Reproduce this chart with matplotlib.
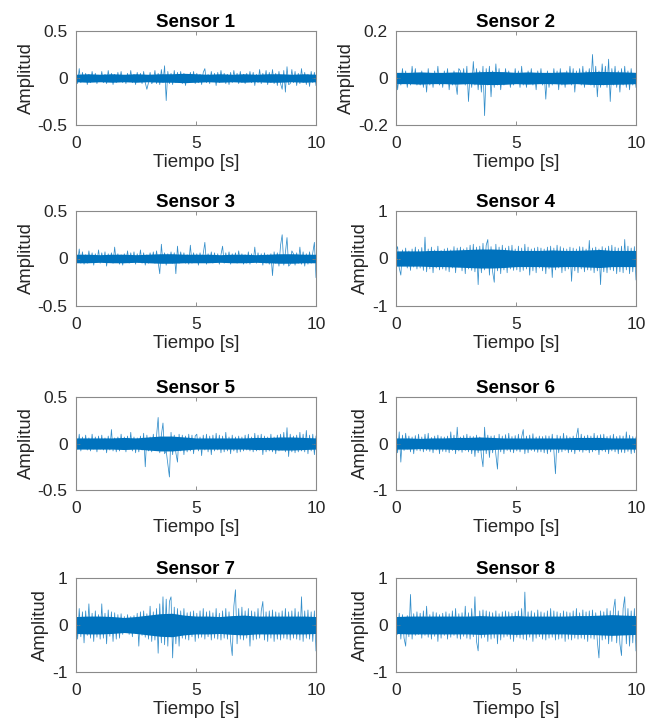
import numpy as np
import matplotlib
matplotlib.use("Agg")
import matplotlib.pyplot as plt

plt.rcParams['font.family'] = ['Liberation Sans', 'DejaVu Sans']
plt.rcParams['axes.unicode_minus'] = False

titles = ["Sensor 1", "Sensor 2", "Sensor 3", "Sensor 4",
          "Sensor 5", "Sensor 6", "Sensor 7", "Sensor 8"]
xlabel = "Tiempo [s]"
ylabel = "Amplitud"
x_ticks = [0, 5, 10]
y_lims = [0.5, 0.2, 0.5, 1, 0.5, 1, 1, 1]
t_end = 10.0

# amplitudes in hundredths
sensor1 = [4,-6,10,-5,6,-3,5,-7,4,-5,7,-3,5,-6,3,
           -4,7,-5,4,-6,8,-3,5,-7,4,-5,6,-4,7,-5,
           3,-6,5,-4,8,-5,4,-7,6,-4,5,-6,7,-5,-12,
           -5,6,-6,-4,8,-6,5,-7,9,-5,13,-24,7,-6,5,
           -7,8,-5,6,-4,7,-6,5,-8,4,-5,6,-4,7,-6,
           5,-5,4,-7,6,10,-5,4,-6,7,-4,5,-8,6,-5,
           8,-4,5,-6,4,-7,6,-5,8,-4,5,-6,7,-5,4,
           -6,5,-4,7,-5,6,-8,4,-5,9,-6,5,-4,8,-7,
           6,-5,9,-6,5,-8,7,-6,-12,8,-15,12,-7,-6,9,
           -5,7,-8,5,-6,10,-5,6,-7,4,-9,7,-5,6,-8]
sensor2 = [3,-5,2,-3,4,-2,3,-4,2,-3,5,-2,4,-3,2,
           -3,3,-4,2,-6,4,-3,2,-4,3,-2,5,-3,2,-4,
           3,-2,4,-5,2,-3,3,-2,-7,4,3,-2,4,-3,5,
           -10,2,-4,7,-3,4,-5,3,-6,5,-16,4,-3,5,-8,
           3,-4,6,-3,4,-5,2,-3,4,-2,3,-4,2,-3,4,
           -2,3,-4,5,-3,2,-4,3,-2,4,-3,2,-5,3,-2,
           4,-3,2,-9,3,-4,2,-3,4,-2,3,-5,4,-3,2,
           -4,3,-2,5,-3,4,-6,3,-2,4,-3,5,-4,3,-2,
           4,-3,10,-4,5,-8,3,-4,6,-3,5,-4,8,-10,4,
           -3,5,-4,3,-6,4,-3,5,-4,3,-5,4,-3,2,-4]
sensor3 = [6,-4,10,-5,7,-6,4,-5,8,-4,6,-7,5,-4,9,
           -5,6,-4,7,-8,5,-4,6,-5,12,-4,5,-6,4,-7,
           5,-4,8,-5,6,-4,7,-6,5,-4,9,-5,6,-7,4,
           -5,6,-4,7,-5,8,-4,-16,15,-5,6,-7,5,-4,7,
           -5,6,-16,13,-5,7,-4,6,-5,4,-6,14,-5,6,-4,
           5,-7,6,-4,5,17,-6,5,-4,7,-5,6,-4,5,-6,
           4,13,-5,6,-4,7,-6,5,-4,6,-5,8,-4,5,-6,
           4,-5,7,-6,5,-4,12,-5,6,-4,5,-7,6,-5,4,
           -6,5,-18,7,-5,6,-8,14,25,-7,6,22,-8,-6,8,
           5,-7,6,-5,12,-6,7,-8,5,-6,7,-5,6,17,-20]
sensor4 = [15,25,-20,-35,18,-15,22,-20,16,-25,20,-18,24,-22,19,
           -20,23,-25,45,-28,20,-22,24,-30,18,-20,26,-24,17,-22,
           20,-25,22,-28,18,-20,25,-30,22,-18,24,-26,20,-32,23,
           -22,28,-25,30,-28,24,-55,26,-30,32,-24,28,40,-35,25,
           -28,-50,30,-26,24,-32,28,-24,22,-30,26,-22,28,-25,20,
           -24,26,-28,22,-25,30,-22,24,-35,20,-26,22,-30,24,-20,
           22,-26,20,-32,24,-22,26,-40,22,-24,28,-20,25,-30,22,
           -26,20,-22,24,-48,22,-26,20,-30,25,-22,24,-28,20,-24,
           38,-25,22,-30,24,-26,20,-55,25,-28,22,-30,26,-24,28,
           -26,24,-32,22,-28,26,-30,40,-24,26,-32,22,-28,25,-45]
sensor5 = [8,-6,10,-8,7,-5,9,-7,6,-8,10,-6,7,-9,8,
           -6,9,-7,6,-10,8,-7,15,-8,6,-9,7,-8,10,-6,
           7,-9,8,-6,12,-8,7,-10,6,-9,8,-7,11,-25,9,
           -8,7,-9,10,-7,8,28,-10,9,22,-11,-8,-22,-36,12,
           -12,9,-10,-20,10,-8,9,-12,8,-9,10,-8,9,-11,8,
           10,-8,7,-13,9,-7,10,-9,8,-12,9,-8,11,-7,9,
           -10,8,-9,12,-8,7,-11,9,-8,7,-10,8,-9,7,-8,
           9,-7,10,-8,7,-9,11,-8,9,-7,10,-12,8,-9,7,
           -8,10,-9,7,-11,9,-8,10,-7,12,-9,17,-14,10,-9,
           8,-10,9,-9,12,-8,10,-9,14,-11,9,-8,10,-12,8]
sensor6 = [15,-20,25,-40,18,-15,22,-12,16,-18,14,-22,17,-15,20,
           -16,14,-18,20,-15,22,-17,13,-20,16,-14,18,-22,15,-17,
           14,-18,16,-20,25,-15,18,-22,35,-16,14,-19,17,-15,20,
           -18,16,-22,15,-28,18,-20,14,-25,-50,35,-22,18,-30,16,
           -20,17,-24,-55,20,-18,16,-22,19,-15,22,-18,15,-20,17,
           -16,20,-18,14,30,-22,16,-20,18,-15,21,-17,14,-19,16,
           -18,15,-20,17,-22,16,-18,20,-15,-65,18,-20,16,-18,22,
           -15,17,-20,14,-18,16,-22,15,33,-17,20,-19,16,-15,18,
           -20,16,-18,22,-15,17,-24,19,-16,20,-18,15,-22,17,-16,
           20,-18,15,-22,17,-19,16,-20,25,-17,18,-22,15,-20,14]
sensor7 = [20,-30,35,-25,28,-38,30,-22,45,-28,25,-35,30,-26,22,
           -30,45,-28,25,-40,32,-24,28,-35,26,-30,22,-28,24,-20,
           18,-15,22,-20,18,-25,20,-18,25,-45,28,-22,30,-26,24,
           -30,40,-35,28,-32,35,-60,45,-38,60,-42,55,-45,50,60,
           -70,38,-40,35,-45,30,-28,35,-30,26,-32,28,-25,30,-35,
           25,-28,30,-26,35,-30,28,-25,30,-32,26,-28,35,-30,25,
           -32,30,-28,35,-30,28,-35,-65,40,75,-40,35,-30,38,-32,
           30,-28,35,-45,30,-32,28,-30,35,-28,30,50,-32,28,-35,
           30,-28,32,-35,28,-30,26,-32,30,-28,35,-30,28,-32,30,
           -28,35,-30,28,-32,60,-35,30,-28,32,-30,28,-35,30,-55]
sensor8 = [40,-20,25,-30,22,-28,-45,20,-25,65,-30,24,-22,28,-20,
           25,-28,30,-22,40,-26,22,-30,28,-24,26,-35,22,-28,25,
           -22,28,-30,24,-26,30,-22,35,-28,24,-30,26,-24,40,-28,
           26,-30,35,-25,60,-35,-55,30,-28,32,-26,30,-35,28,-30,
           26,-28,30,-40,24,-32,28,-26,30,-24,28,-30,25,-35,28,
           -26,30,-28,35,-30,70,-32,28,-26,30,-35,26,-28,32,-25,
           28,-30,26,-32,30,-28,35,-26,30,-32,28,-30,25,-28,30,
           -35,28,-30,26,-32,30,-28,35,-30,26,-28,32,-30,28,-35,
           30,-28,32,-30,26,-35,-70,30,-32,28,-30,35,-40,30,-35,
           32,55,-38,30,-40,-65,35,60,-40,35,-45,30,-38,35,-55]
sensors = [sensor1, sensor2, sensor3, sensor4, sensor5, sensor6, sensor7, sensor8]

# half-width of the dense core band (hundredths) at t = 0, 0.5, ..., 10 s
core1 = [4, 4.5, 4, 4.5, 4, 4.5, 4, 4.5, 4.5, 5, 4.5, 4, 4.5, 4, 4.5, 4, 4.5, 4.5, 4, 4.5, 4]
core2 = [2.4, 2.4, 2.6, 2.4, 2.4, 2.6, 2.4, 2.7, 2.8, 2.7, 2.4, 2.6, 2.4, 2.4, 2.6, 2.4, 2.7, 2.8, 2.7, 2.6, 2.4]
core3 = [4.5, 4.5, 4, 4.5, 4.5, 4, 4.5, 5, 5, 4.5, 4.5, 4.5, 4, 4.5, 4.5, 4, 4.5, 5, 5, 4.5, 4.5]
core4 = [16, 16, 16, 17, 17, 18, 19, 20, 20, 19, 17, 17, 17, 18, 17, 17, 18, 19, 17, 17, 17]
core5 = [6, 6, 6, 6, 6.5, 6, 7, 8, 8, 7, 6, 6, 6, 6, 6, 6.5, 6.5, 7, 7, 6.5, 6]
core6 = [12, 12, 11, 12, 12, 13, 13, 14, 13, 12, 12, 12, 12, 12, 12, 13, 13, 13, 12, 12, 12]
core7 = [18, 19, 19, 18, 16, 18, 21, 24, 25, 21, 19, 19, 18, 20, 21, 19, 19, 19, 19, 19, 18]
core8 = [18, 19, 19, 19, 19, 19, 19, 20, 19, 19, 20, 19, 19, 19, 19, 20, 20, 21, 22, 21, 20]
cores = [core1, core2, core3, core4, core5, core6, core7, core8]

line_color = '#0072BD'
text_color = '#262626'
W, H = 654, 725
fig = plt.figure(figsize=(W / 100, H / 100), dpi=100)

col_px = [(76, 316), (396, 636)]
row_px = [(31, 125), (211, 306), (397, 490), (578, 672)]

for k, (title, data, core, lim) in enumerate(zip(titles, sensors, cores, y_lims)):
    r, c = divmod(k, 2)
    x0, x1 = col_px[c]
    y0, y1 = row_px[r]
    ax = fig.add_axes([x0 / W, 1 - y1 / H, (x1 - x0) / W, (y1 - y0) / H])
    y = np.array(data, dtype=float) / 100.0
    t = np.linspace(0, t_end, len(y))
    cb = np.array(core, dtype=float) / 100.0
    tc = np.linspace(0, t_end, len(cb))
    ax.fill_between(tc, -cb, cb, color=line_color, lw=0)
    ax.plot(t, y, color=line_color, lw=0.55, alpha=0.8)
    ax.set_xlim(0, t_end)
    ax.set_ylim(-lim, lim)
    ax.set_xticks(x_ticks)
    ax.set_yticks([-lim, 0, lim])
    ax.set_yticklabels([f"{-lim:g}", "0", f"{lim:g}"])
    ax.tick_params(direction='in', length=3, width=0.6, colors='#808080',
                   labelcolor=text_color, labelsize=12.5, top=True, right=True)
    ax.tick_params(axis='x', pad=8)
    ax.tick_params(axis='y', pad=6)
    for s in ax.spines.values():
        s.set_color('#8a8a8a')
        s.set_linewidth(0.8)
    ax.set_title(title, fontsize=13.5, fontweight='bold', color='black', pad=3)
    ax.set_xlabel(xlabel, fontsize=13.5, color=text_color, labelpad=2)
    ax.set_ylabel(ylabel, fontsize=13.3, color=text_color, labelpad=2)

fig.savefig("out.png", dpi=100)
